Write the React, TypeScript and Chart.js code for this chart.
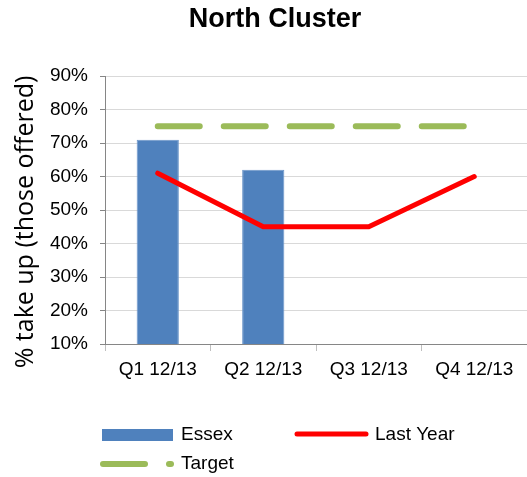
import React, { useEffect, useRef } from "react";
import { Chart, registerables } from "chart.js";

Chart.register(...registerables);

const categories = ["Q1 12/13", "Q2 12/13", "Q3 12/13", "Q4 12/13"];
const essexValues: (number | null)[] = [0.71, 0.62, null, null];
const lastYearValues = [0.61, 0.45, 0.45, 0.6];
const targetValues = [0.75, 0.75, 0.75, 0.75];
const chartTitle = "North Cluster";
const yAxisTitle = "% take up (those offered)";
const seriesNames = ["Essex", "Last Year", "Target"];

const BLUE = "#4f81bd";
const RED = "#ff0000";
const GREEN = "#9bbb59";
const FONT = "'Liberation Sans', Arial, sans-serif";

const decorPlugin = {
  id: "decor",
  afterDraw(chart: any) {
    const ctx = chart.ctx as CanvasRenderingContext2D;
    ctx.save();
    // Title
    ctx.fillStyle = "#000";
    ctx.font = `bold 27px ${FONT}`;
    ctx.textAlign = "center";
    ctx.textBaseline = "middle";
    ctx.fillText(chartTitle, 275, 20);

    // Y-axis title
    ctx.save();
    ctx.translate(26, 222);
    ctx.rotate(-Math.PI / 2);
    ctx.font = `25px 'Open Sans', sans-serif`;
    ctx.textAlign = "center";
    ctx.textBaseline = "middle";
    ctx.fillText(yAxisTitle, 0, 0);
    ctx.restore();

    // Legend
    ctx.font = `19px ${FONT}`;
    ctx.textAlign = "left";
    ctx.textBaseline = "middle";
    // Essex
    ctx.fillStyle = BLUE;
    ctx.fillRect(102, 429, 71, 12);
    ctx.fillStyle = "#000";
    ctx.fillText(seriesNames[0], 181, 435);
    // Last Year
    ctx.strokeStyle = RED;
    ctx.lineWidth = 5;
    ctx.lineCap = "round";
    ctx.beginPath();
    ctx.moveTo(297, 434);
    ctx.lineTo(366, 434);
    ctx.stroke();
    ctx.fillText(seriesNames[1], 375, 435);
    // Target
    ctx.strokeStyle = GREEN;
    ctx.lineWidth = 6;
    ctx.beginPath();
    ctx.moveTo(103, 464);
    ctx.lineTo(145, 464);
    ctx.stroke();
    ctx.beginPath();
    ctx.moveTo(169, 464);
    ctx.lineTo(171, 464);
    ctx.stroke();
    ctx.fillText(seriesNames[2], 181, 464);
    ctx.restore();
  },
};

export default function App() {
  const ref = useRef<HTMLCanvasElement>(null);
  useEffect(() => {
    document.body.style.margin = "0";
    const chart = new Chart(ref.current!, {
      type: "bar",
      data: {
        labels: categories,
        datasets: [
          {
            type: "line",
            label: seriesNames[2],
            data: targetValues,
            borderColor: GREEN,
            backgroundColor: GREEN,
            borderWidth: 6,
            borderDash: [42, 24],
            borderCapStyle: "round",
            pointRadius: 0,
            tension: 0,
            order: 1,
          } as any,
          {
            type: "line",
            label: seriesNames[1],
            data: lastYearValues,
            borderColor: RED,
            backgroundColor: RED,
            borderWidth: 5,
            borderCapStyle: "round",
            borderJoinStyle: "round",
            pointRadius: 0,
            tension: 0,
            order: 0,
          } as any,
          {
            type: "bar",
            label: seriesNames[0],
            data: essexValues,
            backgroundColor: BLUE,
            borderColor: "#6b95c9",
            borderWidth: 1,
            barPercentage: 0.4,
            categoryPercentage: 1,
            order: 2,
          } as any,
        ],
      },
      options: {
        responsive: false,
        animation: false,
        layout: { padding: { top: 76, left: 0, right: 0, bottom: 93 } },
        plugins: {
          legend: { display: false },
          title: { display: false },
          tooltip: { enabled: false },
        },
        scales: {
          x: {
            offset: true,
            grid: {
              offset: true,
              drawOnChartArea: false,
              drawTicks: true,
              tickLength: 7,
              color: "#bfbfbf",
            },
            border: { color: "#868686", width: 1 },
            ticks: {
              color: "#000",
              font: { family: FONT, size: 19 },
              padding: 7,
              maxRotation: 0,
            },
            afterFit: (s: any) => {
              s.height = 40;
            },
          },
          y: {
            min: 0.1,
            max: 0.9,
            grid: {
              color: "#d9d9d9",
              drawTicks: true,
              tickLength: 5,
              tickColor: "#868686",
            },
            border: { color: "#868686", width: 1 },
            ticks: {
              stepSize: 0.1,
              color: "#000",
              font: { family: FONT, size: 19 },
              padding: 12,
              callback: (v: any) => `${Math.round(Number(v) * 100)}%`,
            },
            afterFit: (s: any) => {
              s.width = 105;
            },
          },
        },
      },
      plugins: [decorPlugin],
    });
    return () => chart.destroy();
  }, []);
  return (
    <canvas
      ref={ref}
      width={527}
      height={477}
      style={{ display: "block", width: 527, height: 477 }}
    />
  );
}
